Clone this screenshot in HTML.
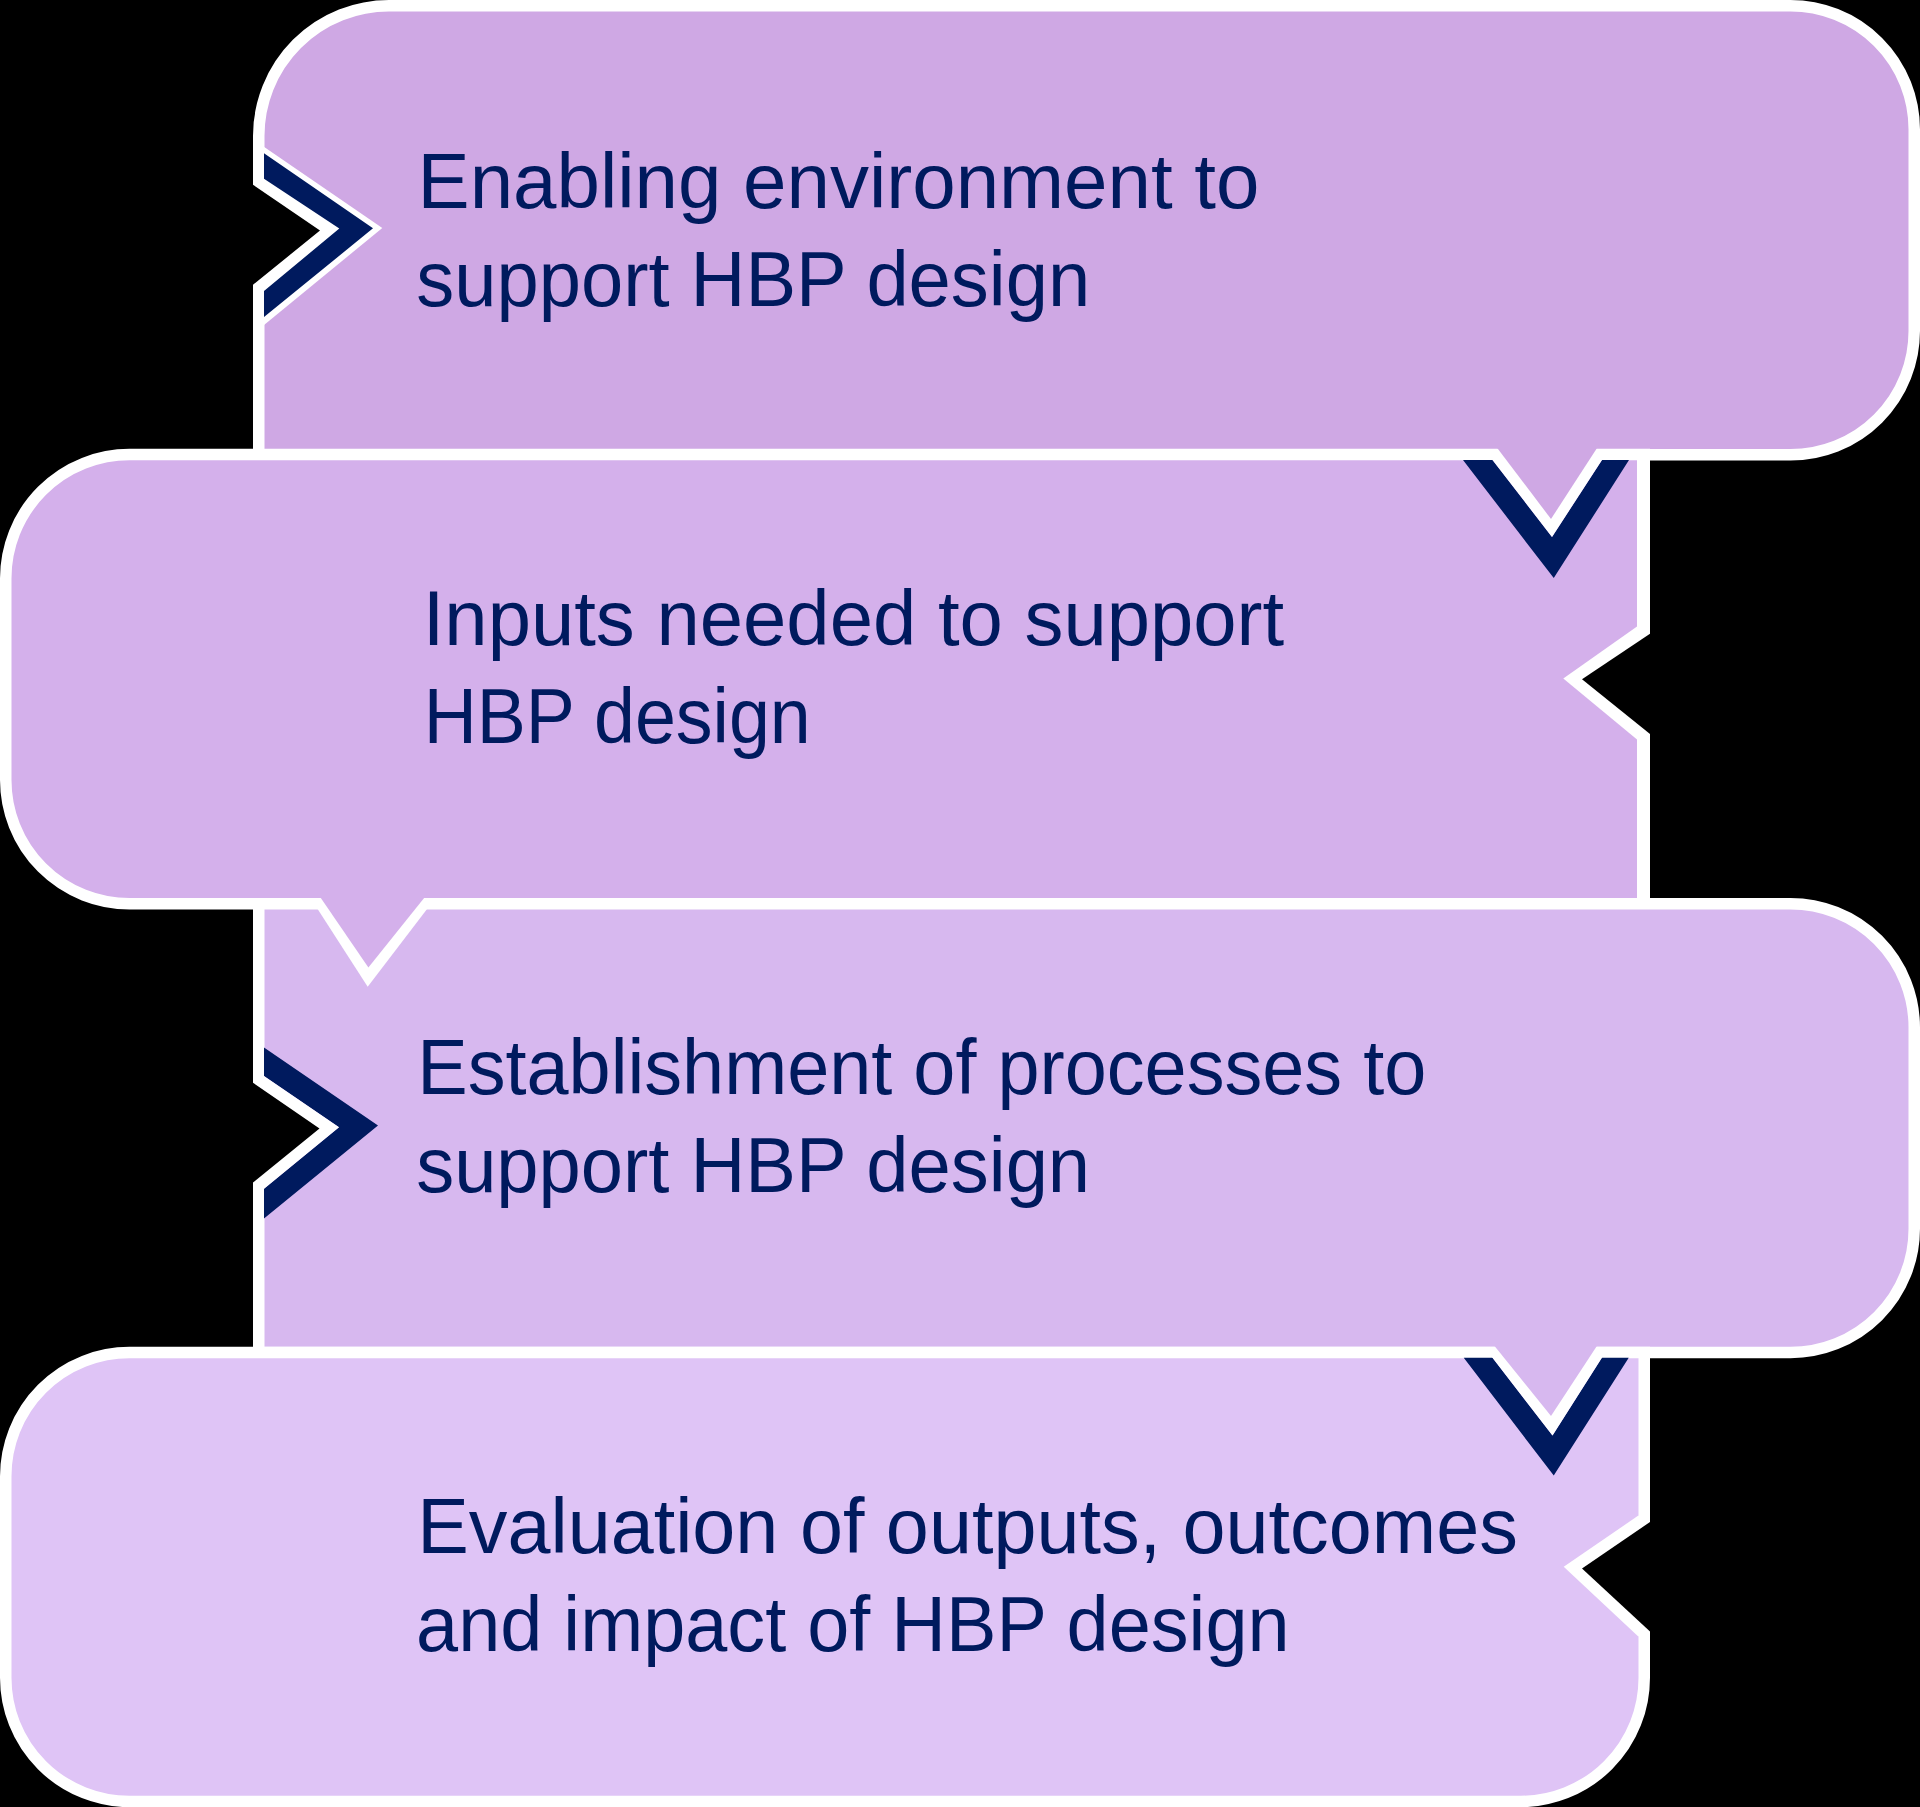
<!DOCTYPE html>
<html><head><meta charset="utf-8"><title>HBP design</title>
<style>html,body{margin:0;padding:0;background:#000;}svg{display:block;}</style></head>
<body>
<svg width="1920" height="1807" viewBox="0 0 1920 1807">
<rect width="1920" height="1807" fill="#000"/>
<path d="M258.75,136.0 A130.25,130.25 0 0 1 389.0,5.75 L1790.5,5.75 A123.75,123.75 0 0 1 1914.25,129.5 L1914.25,331.1 A123.75,123.75 0 0 1 1790.5,454.85 L258.75,454.85 Z" fill="#CFA8E4" stroke="#fff" stroke-width="11.5" stroke-linejoin="miter"/>
<polygon points="253,139.4 382.3,228 253,334" fill="#fff"/>
<polygon points="264,153.2 373,228.3 264,317.1 264,290.9 339.3,228.6 264,178.7" fill="#001A5E"/>
<polygon points="250,182.6 253,184.7 320,230.6 253,284.7 250,287" fill="#000"/>
<path d="M5.75,578.3 A123.75,123.75 0 0 1 129.5,454.55 L1644.25,454.55 L1644.25,903.75 L129.5,903.75 A123.75,123.75 0 0 1 5.75,780.0 Z" fill="#D4B0EB" stroke="#fff" stroke-width="11.5" stroke-linejoin="miter"/>
<rect x="1637" y="454" width="8" height="450" fill="#fff"/>
<polygon points="1463,460 1553.75,578.1 1629,460 1602,460 1552,537 1492.5,460" fill="#001A5E"/>
<polygon points="1484,449 1552,537 1609.1,449" fill="#fff"/>
<polygon points="1495.5,445.7 1551,519 1598.5,445.7" fill="#CFA8E4"/>
<polygon points="1637,626.6 1563.3,678.5 1637,739.5 1650,739.5 1650,626.6" fill="#fff"/>
<polygon points="1650,633.7 1582,679.3 1650,734.1" fill="#000"/>
<path d="M258.75,903.65 L1790.5,903.65 A123.75,123.75 0 0 1 1914.25,1027.4 L1914.25,1228.7 A123.75,123.75 0 0 1 1790.5,1352.45 L258.75,1352.45 Z" fill="#D7B8EF" stroke="#fff" stroke-width="11.5" stroke-linejoin="miter"/>
<polygon points="310.5,897.9 367.7,986.8 435.5,897.9" fill="#fff"/>
<polygon points="318.1,894 368.4,967.5 427.3,894" fill="#D4B0EB"/>
<polygon points="264,1047.4 378,1125.4 264,1218.5 264,1188.7 339,1127.2 264,1076" fill="#001A5E"/>
<polygon points="253,1068.5 339,1127.2 253,1197.7" fill="#fff"/>
<polygon points="250,1080.6 253,1082.7 319.5,1128.4 253,1182.6 250,1185" fill="#000"/>
<path d="M5.75,1476.3 A123.75,123.75 0 0 1 129.5,1352.55 L1644.25,1352.55 L1644.25,1677.7 A123.75,123.75 0 0 1 1520.5,1801.45 L129.5,1801.45 A123.75,123.75 0 0 1 5.75,1677.7 Z" fill="#DFC4F6" stroke="#fff" stroke-width="11.5" stroke-linejoin="miter"/>
<polygon points="1463.75,1357.75 1553.75,1475.6 1628.75,1357.75 1601.9,1357.75 1552.5,1435.6 1492.5,1357.75" fill="#001A5E"/>
<polygon points="1484.2,1347 1552.5,1435.6 1608.7,1347" fill="#fff"/>
<polygon points="1492.5,1343.5 1551,1416 1598.5,1343.5" fill="#D7B8EF"/>
<polygon points="1638,1515.8 1563.7,1566.8 1638,1636.2 1650,1636.2 1650,1515.8" fill="#fff"/>
<polygon points="1650,1522 1582,1568.5 1650,1631.6" fill="#000"/>
<g fill="#001A5E" font-family='"Liberation Sans", sans-serif'>
<text x="417.58" y="208.00" font-size="78" textLength="841.83" lengthAdjust="spacingAndGlyphs">Enabling environment to</text>
<text x="416.30" y="305.50" font-size="78" textLength="673.81" lengthAdjust="spacingAndGlyphs">support HBP design</text>
<text x="422.70" y="645.00" font-size="78" textLength="861.50" lengthAdjust="spacingAndGlyphs">Inputs needed to support</text>
<text x="423.65" y="743.00" font-size="78" textLength="387.09" lengthAdjust="spacingAndGlyphs">HBP design</text>
<text x="417.19" y="1094.20" font-size="78" textLength="1009.12" lengthAdjust="spacingAndGlyphs">Establishment of processes to</text>
<text x="416.20" y="1192.00" font-size="78" textLength="673.90" lengthAdjust="spacingAndGlyphs">support HBP design</text>
<text x="417.19" y="1552.70" font-size="78" textLength="1100.71" lengthAdjust="spacingAndGlyphs">Evaluation of outputs, outcomes</text>
<text x="416.09" y="1650.50" font-size="78" textLength="873.51" lengthAdjust="spacingAndGlyphs">and impact of HBP design</text>
</g>
</svg>
</body></html>
